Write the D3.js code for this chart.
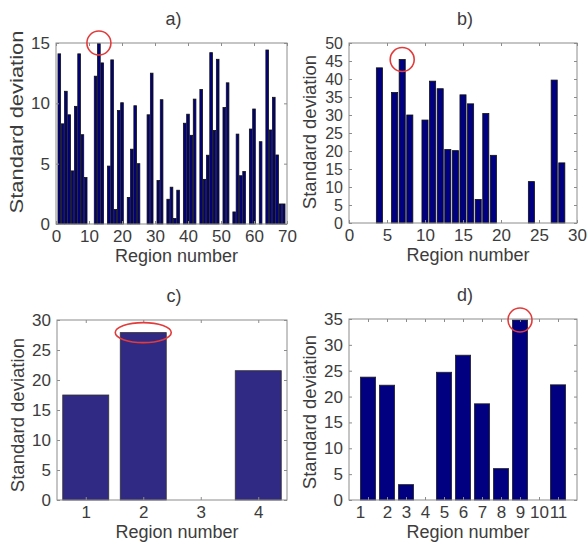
<!DOCTYPE html>
<html>
<head>
<meta charset="utf-8">
<script src="https://cdn.jsdelivr.net/npm/d3@7"></script>
<style>
  body { margin: 0; background: #fff; }
  svg { display: block; font-family: "Liberation Sans", Arial, sans-serif; }
  .tick text { fill: #3c3c3c; }
</style>
</head>
<body>
<div id="viz"></div>
<script>
// ---- data ----
// a) 69 regions
var regionsA = d3.range(1, 70);
var sdA = [14.1, 8.3, 11.0, 9.05, 4.4, 9.75, 14.1, 7.4, 3.85, 0,
           0, 12.25, 14.95, 13.35, 0, 4.8, 13.6, 1.2, 9.4, 10.05,
           0, 2.2, 6.2, 9.8, 5.0, 0, 0, 9.05, 12.5, 0,
           3.6, 10.3, 0, 2.05, 3.05, 0.45, 2.8, 0, 8.35, 9.1,
           7.35, 10.35, 0, 11.15, 3.7, 5.7, 14.2, 7.75, 13.65, 0,
           9.65, 11.7, 0, 1.0, 7.45, 4.0, 4.35, 0, 7.87, 9.53,
           0, 6.82, 0, 14.42, 7.79, 10.5, 5.72, 1.66, 1.66];
var xTicksA = [0, 10, 20, 30, 40, 50, 60, 70];
var yTicksA = [0, 5, 10, 15];

// b) 28 regions
var regionsB = d3.range(1, 29);
var sdB = [0, 0, 0, 43.1, 0, 36.25, 45.4, 30.0, 0, 28.6,
           39.4, 37.3, 20.4, 20.1, 35.6, 33.1, 6.55, 30.4, 18.8, 0,
           0, 0, 0, 11.5, 0, 0, 39.7, 16.7];
var xTicksB = [0, 5, 10, 15, 20, 25, 30];
var yTicksB = d3.range(0, 51, 5);

// c) 4 regions
var regionsC = [1, 2, 3, 4];
var sdC = [17.5, 27.9, 0, 21.55];
var xTicksC = [1, 2, 3, 4];
var yTicksC = d3.range(0, 31, 5);

// d) 11 regions
var regionsD = d3.range(1, 12);
var sdD = [23.76, 22.2, 2.97, 0, 24.7, 28.0, 18.6, 6.07, 34.8, 0, 22.27];
var xTicksD = d3.range(1, 12);
var yTicksD = d3.range(0, 36, 5);

// highlighted maximum of each panel (region, value)
var peakA = [13, 15], peakB = [7, 45.4], peakC = [2, 27.9], peakD = [9, 34.8];

var width = 588, height = 551;
var svg = d3.select('#viz').append('svg')
  .attr('width', width)
  .attr('height', height);

// one subplot
function drawPanel(p) {
  var x = d3.scaleLinear().domain(p.xDomain).range([p.left, p.right]);
  var y = d3.scaleLinear().domain(p.yDomain).range([p.bottom, p.top]);
  var g = svg.append('g');
  var barW = Math.abs(x(0.8) - x(0));
  var yFont = p.yTickFont || 17;

  // bars
  g.selectAll('rect.bar')
    .data(p.regions.map(function(r, i) { return {r: r, v: p.values[i]}; }).filter(function(d) { return d.v > 0; }))
    .enter()
    .append('rect')
    .attr('class', 'bar')
    .attr('x', function(d) { return x(d.r) - barW / 2; })
    .attr('width', barW)
    .attr('y', function(d) { return y(d.v); })
    .attr('height', function(d) { return y(0) - y(d.v); })
    .style('fill', p.fill)
    .style('stroke', p.edge)
    .style('stroke-width', 0.8);

  // axes: inward ticks on all four sides, labels only bottom/left
  var ax = g.append('g').attr('transform', 'translate(0,' + p.bottom + ')')
    .call(d3.axisBottom(x).tickValues(p.xTicks).tickFormat(d3.format('d'))
      .tickSizeInner(-3).tickSizeOuter(0).tickPadding(6));
  var ay = g.append('g').attr('transform', 'translate(' + p.left + ',0)')
    .call(d3.axisLeft(y).tickValues(p.yTicks).tickSizeInner(-3).tickSizeOuter(0).tickPadding(6));
  g.append('g').attr('transform', 'translate(0,' + p.top + ')')
    .call(d3.axisTop(x).tickValues(p.xTicks).tickSize(-3).tickFormat(''));
  g.append('g').attr('transform', 'translate(' + p.right + ',0)')
    .call(d3.axisRight(y).tickValues(p.yTicks).tickSize(-3).tickFormat(''));
  g.selectAll('.domain').remove();
  g.selectAll('.tick line').style('stroke', '#8c8c8c');
  ax.selectAll('.tick text').style('font-size', '17px');
  ay.selectAll('.tick text').style('font-size', yFont + 'px');
  if (p.firstLabelShift) {
    ax.select('.tick text').attr('dx', p.firstLabelShift);
  }

  // box
  g.append('rect')
    .attr('x', p.left).attr('y', p.top)
    .attr('width', p.right - p.left).attr('height', p.bottom - p.top)
    .style('fill', 'none')
    .style('stroke', '#8c8c8c')
    .style('stroke-width', 1);

  // title and labels
  g.append('text')
    .attr('x', (p.left + p.right) / 2 + 2).attr('y', p.top - 18)
    .attr('text-anchor', 'middle')
    .style('font-size', '18px').style('fill', '#3c3c3c')
    .text(p.title);
  g.append('text')
    .attr('x', (p.left + p.right) / 2 + 5).attr('y', p.bottom + 38)
    .attr('text-anchor', 'middle')
    .style('font-size', '18px').style('fill', '#3c3c3c')
    .text('Region number');
  var yl = g.append('text')
    .attr('transform', 'translate(' + (p.left - 33) + ',' + p.yLabelCenter + ') rotate(-90)')
    .attr('text-anchor', 'middle')
    .style('font-size', '18.5px').style('fill', '#3c3c3c')
    .text('Standard deviation');
  if (p.yLabelLength) {
    yl.attr('textLength', p.yLabelLength).attr('lengthAdjust', 'spacingAndGlyphs');
  }

  // red marker around the peak
  g.append('ellipse')
    .attr('cx', x(p.peak[0]))
    .attr('cy', y(p.peak[1]))
    .attr('rx', p.ring[0]).attr('ry', p.ring[1])
    .style('fill', 'none')
    .style('stroke', '#e23b3b')
    .style('stroke-width', 1.6);
}

drawPanel({title: 'a)', regions: regionsA, values: sdA, xTicks: xTicksA, yTicks: yTicksA,
  xDomain: [0, 70], yDomain: [0, 15], left: 56, right: 287, top: 43, bottom: 224,
  fill: '#000080', edge: '#111', peak: peakA, ring: [12, 12], yLabelCenter: 122, yLabelLength: 183});
drawPanel({title: 'b)', regions: regionsB, values: sdB, xTicks: xTicksB, yTicks: yTicksB,
  xDomain: [0, 30], yDomain: [0, 50], left: 349, right: 577, top: 43, bottom: 223,
  fill: '#000080', edge: '#111', peak: peakB, ring: [12, 12], yLabelCenter: 132, yTickFont: 16});
drawPanel({title: 'c)', regions: regionsC, values: sdC, xTicks: xTicksC, yTicks: yTicksC,
  xDomain: [0.5, 4.5], yDomain: [0, 30], left: 57, right: 287, top: 320, bottom: 500,
  fill: '#312a84', edge: '#333', peak: peakC, ring: [28, 10], yLabelCenter: 415});
drawPanel({title: 'd)', regions: regionsD, values: sdD, xTicks: xTicksD, yTicks: yTicksD,
  xDomain: [0, 12], yDomain: [0, 35], left: 349, right: 577, top: 319, bottom: 500,
  fill: '#000080', edge: '#222', peak: peakD, ring: [12, 12], yLabelCenter: 412, firstLabelShift: -8});
</script>
</body>
</html>
